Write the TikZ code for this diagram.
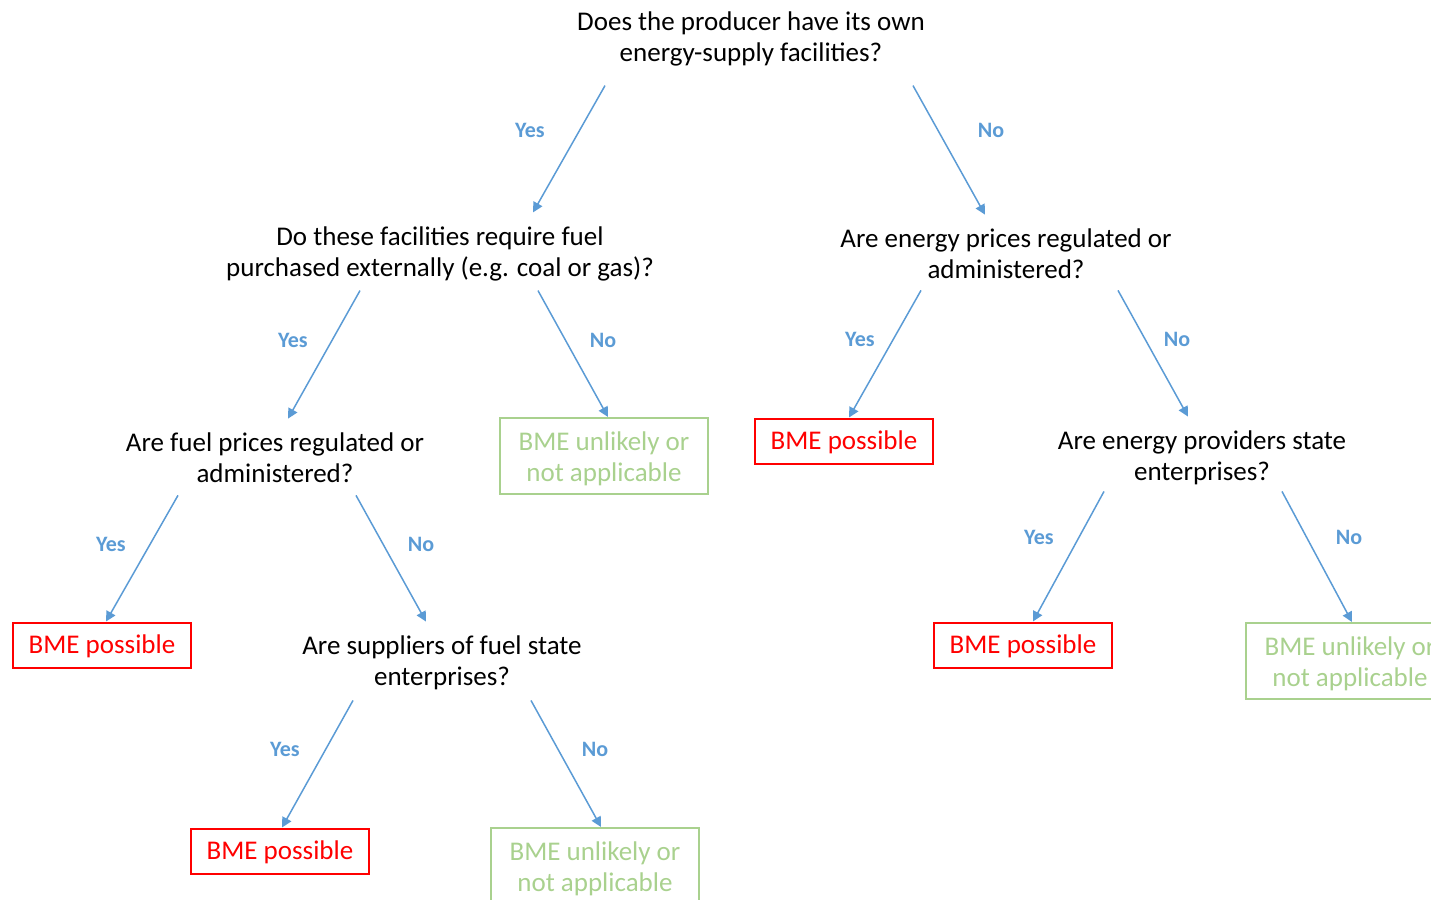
\documentclass[tikz,border=0pt]{standalone}
\usepackage{fontspec}
\setmainfont{Carlito}
\usetikzlibrary{arrows.meta}

\definecolor{arrowblue}{RGB}{91,155,213}
\definecolor{bmered}{RGB}{255,0,0}
\definecolor{bmegreen}{RGB}{169,209,142}

\begin{document}
\begin{tikzpicture}[
    x = 0.5pt, y = -0.5pt,
    question/.style = {align=center, inner xsep=0pt, inner ysep=7pt, font=\fontsize{13.5}{15.5}\selectfont},
    possible/.style = {draw=bmered, line width=1pt, text=bmered, minimum width=89pt, minimum height=22.5pt, inner sep=0pt, text height=11.5pt, text depth=3pt, font=\fontsize{13.5}{15.5}\selectfont},
    unlikely/.style = {draw=bmegreen, line width=1pt, text=bmegreen, align=center, minimum width=104pt, minimum height=38pt, inner sep=0pt, text height=27.5pt, font=\fontsize{13.5}{15.5}\selectfont},
    answer/.style = {text=arrowblue, font=\fontsize{11}{13}\selectfont\bfseries},
    decision/.style = {-{Triangle[width=5pt,length=5pt]}, arrowblue, line width=0.75pt}
]

\useasboundingbox (0,0) rectangle (1431,900);
\clip (0,0) rectangle (1431,900);

\node[question] (q0) at (751,39) {Does the producer have its own\\energy-supply facilities?};
\node[question] (q1) at (440,254) {Do these facilities require fuel\\purchased externally (e.g. coal or gas)?};
\node[question] (q2) at (1006,254) {Are energy prices regulated or\\administered?};
\node[question] (q3) at (275,458) {Are fuel prices regulated or\\administered?};
\node[question] (q4) at (1202,458) {Are energy providers state\\enterprises?};
\node[question] (q5) at (442,663) {Are suppliers of fuel state\\enterprises?};

\node[unlikely] (u1) at (604,456) {BME unlikely or\\not applicable};
\node[possible] (p1) at (844,441) {BME possible};
\node[possible] (p2) at (102,645) {BME possible};
\node[possible] (p3) at (280,851) {BME possible};
\node[unlikely] (u2) at (595,866) {BME unlikely or\\not applicable};
\node[possible] (p4) at (1023,645) {BME possible};
\node[unlikely] (u3) at (1350,661) {BME unlikely or\\not applicable};

\draw[decision] ([xshift=-73pt, yshift=-2.5pt]q0.south) -- ([xshift=46.5pt]q1.north);
\draw[decision] ([xshift=81pt, yshift=-2.5pt]q0.south) -- ([xshift=-10.5pt]q2.north);
\draw[decision] ([xshift=-40pt, yshift=2.5pt]q1.south) -- ([xshift=6.5pt]q3.north);
\draw[decision] ([xshift=49pt, yshift=2.5pt]q1.south) -- ([xshift=2pt]u1.north);
\draw[decision] ([xshift=-42.5pt, yshift=1.5pt]q2.south) -- ([xshift=2.5pt]p1.north);
\draw[decision] ([xshift=56pt, yshift=1.5pt]q2.south) -- ([xshift=-7pt]q4.north);
\draw[decision] ([xshift=-48.5pt, yshift=1pt]q3.south) -- ([xshift=2pt]p2.north);
\draw[decision] ([xshift=40.5pt, yshift=1pt]q3.south) -- ([xshift=-8pt]q5.north);
\draw[decision] ([xshift=-49pt, yshift=4pt]q4.south) -- ([xshift=5pt]p4.north);
\draw[decision] ([xshift=40pt, yshift=4pt]q4.south) -- ([xshift=1pt]u3.north);
\draw[decision] ([xshift=-44.5pt, yshift=2pt]q5.south) -- ([xshift=1pt]p3.north);
\draw[decision] ([xshift=44.5pt, yshift=2pt]q5.south) -- ([xshift=3pt]u2.north);

\node[answer] (y0) at (530,130) {Yes};
\node[answer] (n0) at (991,130) {No};
\node[answer] (y1) at (293,340) {Yes};
\node[answer] (n1) at (603,340) {No};
\node[answer] (y2) at (860,339) {Yes};
\node[answer] (n2) at (1177,339) {No};
\node[answer] (y3) at (111,544) {Yes};
\node[answer] (n3) at (421,544) {No};
\node[answer] (y4) at (1039,537) {Yes};
\node[answer] (n4) at (1349,537) {No};
\node[answer] (y5) at (285,749) {Yes};
\node[answer] (n5) at (595,749) {No};

\end{tikzpicture}
\end{document}
